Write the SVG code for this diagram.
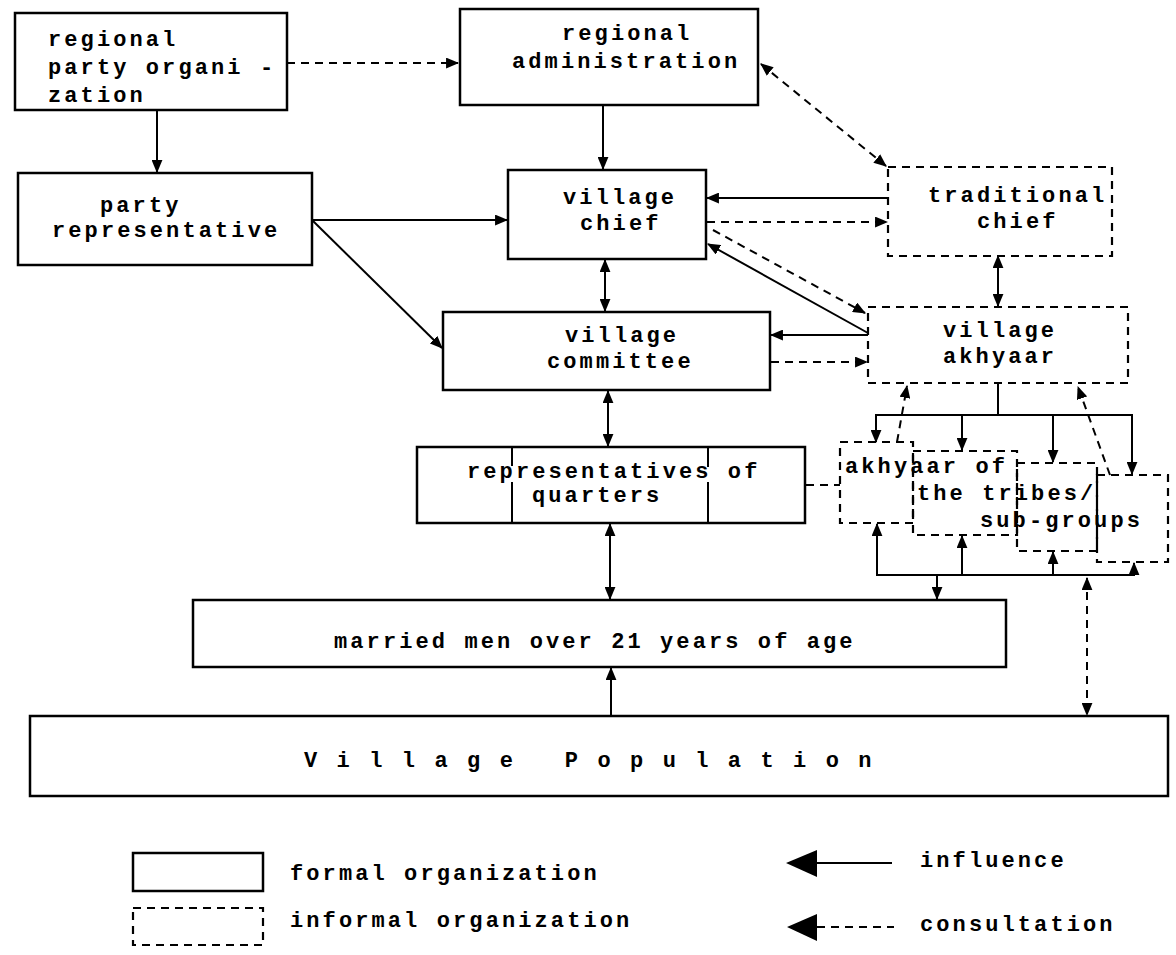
<svg xmlns="http://www.w3.org/2000/svg" width="1176" height="955" viewBox="0 0 1176 955">
<defs>
<marker id="ah" viewBox="0 0 12 10" refX="11" refY="5" markerWidth="13" markerHeight="11" markerUnits="userSpaceOnUse" orient="auto-start-reverse">
<path d="M0,0 L12,5 L0,10 z" fill="#000"/>
</marker>
<style>
.f{fill:none;stroke:#000;stroke-width:2.5}
.i{fill:none;stroke:#000;stroke-width:2.2;stroke-dasharray:8 6}
.s{fill:none;stroke:#000;stroke-width:2}
.d{fill:none;stroke:#000;stroke-width:2;stroke-dasharray:8 6}
text{font-family:"Liberation Mono","DejaVu Sans Mono",monospace;font-size:22px;font-weight:bold;letter-spacing:3.1px;fill:#000;white-space:pre}
</style>
</defs>
<rect width="1176" height="955" fill="#fff"/>

<g id="connectors">
<path class="d" d="M287,63 H458" marker-end="url(#ah)"/>
<path class="s" d="M157,110 V172" marker-end="url(#ah)"/>
<path class="s" d="M603,105 V169" marker-end="url(#ah)"/>
<path class="d" d="M761,64 L886,166" marker-start="url(#ah)" marker-end="url(#ah)"/>
<path class="s" d="M312,220 H507" marker-end="url(#ah)"/>
<path class="s" d="M312,220 L442,348" marker-end="url(#ah)"/>
<path class="s" d="M888,198 H707" marker-end="url(#ah)"/>
<path class="d" d="M707,222 H887" marker-end="url(#ah)"/>
<path class="s" d="M868,333 L708,244" marker-end="url(#ah)"/>
<path class="d" d="M713,230 L865,313" marker-end="url(#ah)"/>
<path class="s" d="M605,260 V311" marker-start="url(#ah)" marker-end="url(#ah)"/>
<path class="s" d="M868,335 H771" marker-end="url(#ah)"/>
<path class="d" d="M771,362 H867" marker-end="url(#ah)"/>
<path class="s" d="M998,256 V306" marker-start="url(#ah)" marker-end="url(#ah)"/>
<path class="s" d="M608,391 V446" marker-start="url(#ah)" marker-end="url(#ah)"/>
<path class="s" d="M610,524 V599" marker-start="url(#ah)" marker-end="url(#ah)"/>
<path class="d" d="M806,485 H840"/>
<path class="s" d="M998,384 V415"/>
<path class="s" d="M876,442 V415 H1132 V474" marker-start="url(#ah)" marker-end="url(#ah)"/>
<path class="s" d="M962,415 V450" marker-end="url(#ah)"/>
<path class="s" d="M1053,415 V462" marker-end="url(#ah)"/>
<path class="d" d="M897,442 L907,386" marker-end="url(#ah)"/>
<path class="d" d="M1110,475 L1078,387" marker-end="url(#ah)"/>
<path class="s" d="M877,524 V575 H1134 V563" marker-start="url(#ah)" marker-end="url(#ah)"/>
<path class="s" d="M962,575 V536" marker-end="url(#ah)"/>
<path class="s" d="M1053,575 V552" marker-end="url(#ah)"/>
<path class="s" d="M937,575 V599" marker-end="url(#ah)"/>
<path class="d" d="M1087,578 V715" marker-start="url(#ah)" marker-end="url(#ah)"/>
<path class="s" d="M611,715 V668" marker-end="url(#ah)"/>
</g>

<g id="regional-party-organization">
<rect class="f" x="15" y="13" width="272" height="97"/>
<text x="48" y="46">regional</text>
<text x="48" y="74">party organi -</text>
<text x="48" y="102">zation</text>
</g>

<g id="regional-administration">
<rect class="f" x="460" y="9" width="298" height="96"/>
<text x="562" y="40">regional</text>
<text x="512" y="68">administration</text>
</g>

<g id="party-representative">
<rect class="f" x="18" y="173" width="294" height="92"/>
<text x="100" y="212">party</text>
<text x="52" y="237">representative</text>
</g>

<g id="village-chief">
<rect class="f" x="508" y="170" width="198" height="89"/>
<text x="563" y="204">village</text>
<text x="580" y="230">chief</text>
</g>

<g id="traditional-chief">
<rect class="i" x="888" y="167" width="224" height="89"/>
<text x="928" y="202">traditional</text>
<text x="977" y="228">chief</text>
</g>

<g id="village-committee">
<rect class="f" x="443" y="312" width="327" height="78"/>
<text x="565" y="342">village</text>
<text x="547" y="368">committee</text>
</g>

<g id="village-akhyaar">
<rect class="i" x="868" y="307" width="260" height="76"/>
<text x="943" y="337">village</text>
<text x="943" y="363">akhyaar</text>
</g>

<g id="representatives-of-quarters">
<rect class="f" x="417" y="447" width="388" height="76"/>
<path class="s" d="M512,447 V466 M512,482 V523 M708,447 V467 M708,482 V523"/>
<text x="467" y="478">representatives of</text>
<text x="532" y="502">quarters</text>
</g>

<g id="akhyaar-of-tribes">
<rect class="i" x="840" y="442" width="73" height="81"/>
<rect class="i" x="913" y="451" width="104" height="84"/>
<rect class="i" x="1017" y="463" width="80" height="88"/>
<rect class="i" x="1097" y="475" width="71" height="87"/>
<text x="845" y="473">akhyaar of</text>
<text x="917" y="500">the tribes/</text>
<text x="980" y="527">sub-groups</text>
</g>

<g id="married-men">
<rect class="f" x="193" y="600" width="813" height="67"/>
<text x="334" y="648">married men over 21 years of age</text>
</g>

<g id="village-population">
<rect class="f" x="30" y="716" width="1138" height="80"/>
<text x="304" y="767" xml:space="preserve">V i l l a g e   P o p u l a t i o n</text>
</g>

<g id="legend">
<rect class="f" x="133" y="853" width="130" height="38"/>
<text x="290" y="880">formal organization</text>
<rect class="i" x="133" y="908" width="130" height="37"/>
<text x="290" y="927">informal organization</text>
<polygon points="786,863 817,850 817,877" fill="#000"/>
<path class="s" d="M817,863 H892"/>
<text x="920" y="867">influence</text>
<polygon points="787,927 817,914 817,941" fill="#000"/>
<path class="d" d="M817,927 H894" stroke-dasharray="6 4"/>
<text x="920" y="931">consultation</text>
</g>
</svg>
